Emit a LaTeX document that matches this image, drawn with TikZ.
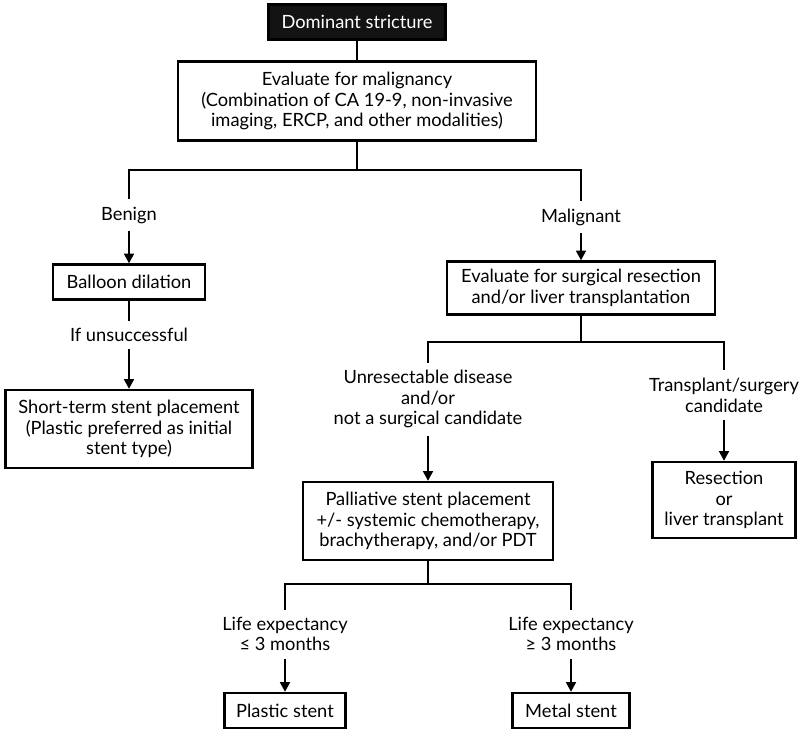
\documentclass[tikz,border=0pt]{standalone}
\usepackage{fontspec}
\setmainfont{Lato}
\usepackage{tikz}
\usetikzlibrary{arrows.meta,positioning}
\newcommand{\boxcolor}{black}
\newcommand{\thickness}{1.3pt}
\newcommand{\darkfill}{gray!15!black}

\begin{document}
\begin{tikzpicture}[x=0.02cm, y=-0.02cm,
  every node/.style={font=\fontsize{10.4}{11.8}\selectfont, align=center},
  box/.style={draw=\boxcolor, line width=\thickness, inner sep=2pt},
  lbl/.style={inner sep=4pt},
  link/.style={line width=\thickness},
  arr/.style={line width=\thickness, -{Triangle[length=5.5pt,width=5.5pt]}}]
\useasboundingbox (0,0) rectangle (800,735);
%boxes
\node[box, fill=\darkfill, text=white, minimum width=3.54cm, minimum height=0.7cm] (dom) at (357, 22) {Dominant stricture};
\node[box, minimum width=7.16cm, minimum height=1.58cm] (eval) at (357, 101) {Evaluate for malignancy\\(Combination of CA 19-9, non-invasive\\imaging, ERCP, and other modalities)};
\node[box, minimum width=3.04cm, minimum height=0.7cm] (balloon) at (129, 282) {Balloon dilation};
\node[box, minimum width=4.94cm, minimum height=1.56cm] (short) at (129, 429) {Short-term stent placement\\(Plastic preferred as initial\\stent type)};
\node[box, minimum width=5.36cm, minimum height=1.06cm] (surg) at (581, 288) {Evaluate for surgical resection\\and/or liver transplantation};
\node[box, minimum width=5.0cm, minimum height=1.56cm] (pall) at (428, 521) {Palliative stent placement\\+/- systemic chemotherapy,\\brachytherapy, and/or PDT};
\node[box, minimum width=2.86cm, minimum height=1.52cm] (resect) at (724, 500) {Resection\\or\\liver transplant};
\node[box, minimum width=2.42cm, minimum height=0.7cm] (plastic) at (285, 710.5) {Plastic stent};
\node[box, minimum width=2.34cm, minimum height=0.7cm] (metal) at (571, 710.5) {Metal stent};
%labels
\node[lbl] (benign) at (129, 215) {Benign};
\node[lbl] (ifnot) at (129, 335) {If unsuccessful};
\node[lbl] (malig) at (581, 217) {Malignant};
\node[lbl] (unres) at (428, 399) {Unresectable disease\\and/or\\not a surgical candidate};
\node[lbl] (transp) at (724, 395) {Transplant/surgery\\candidate};
\node[lbl] (short3) at (285, 634) {Life expectancy\\≤ 3 months};
\node[lbl] (long3) at (571, 634) {Life expectancy\\≥ 3 months};
%splits
\coordinate (split1) at (357, 170);
\coordinate (split2) at (581, 342);
\coordinate (split3) at (428, 584);
%links
\draw[link] (dom) -- (eval);
\draw[link] (eval) -- (split1);
\draw[link] (split1) -| (benign);
\draw[link] (split1) -| (malig);
\draw[arr] (benign) -- (balloon);
\draw[link] (balloon) -- (ifnot);
\draw[arr] (ifnot) -- (short);
\draw[arr] (malig) -- (surg);
\draw[link] (surg) -- (split2);
\draw[link] (split2) -| (unres);
\draw[link] (split2) -| (transp);
\draw[arr] (unres) -- (pall);
\draw[arr] (transp) -- (resect);
\draw[link] (pall) -- (split3);
\draw[link] (split3) -| (short3);
\draw[link] (split3) -| (long3);
\draw[arr] (short3) -- (plastic);
\draw[arr] (long3) -- (metal);
\end{tikzpicture}
\end{document}
